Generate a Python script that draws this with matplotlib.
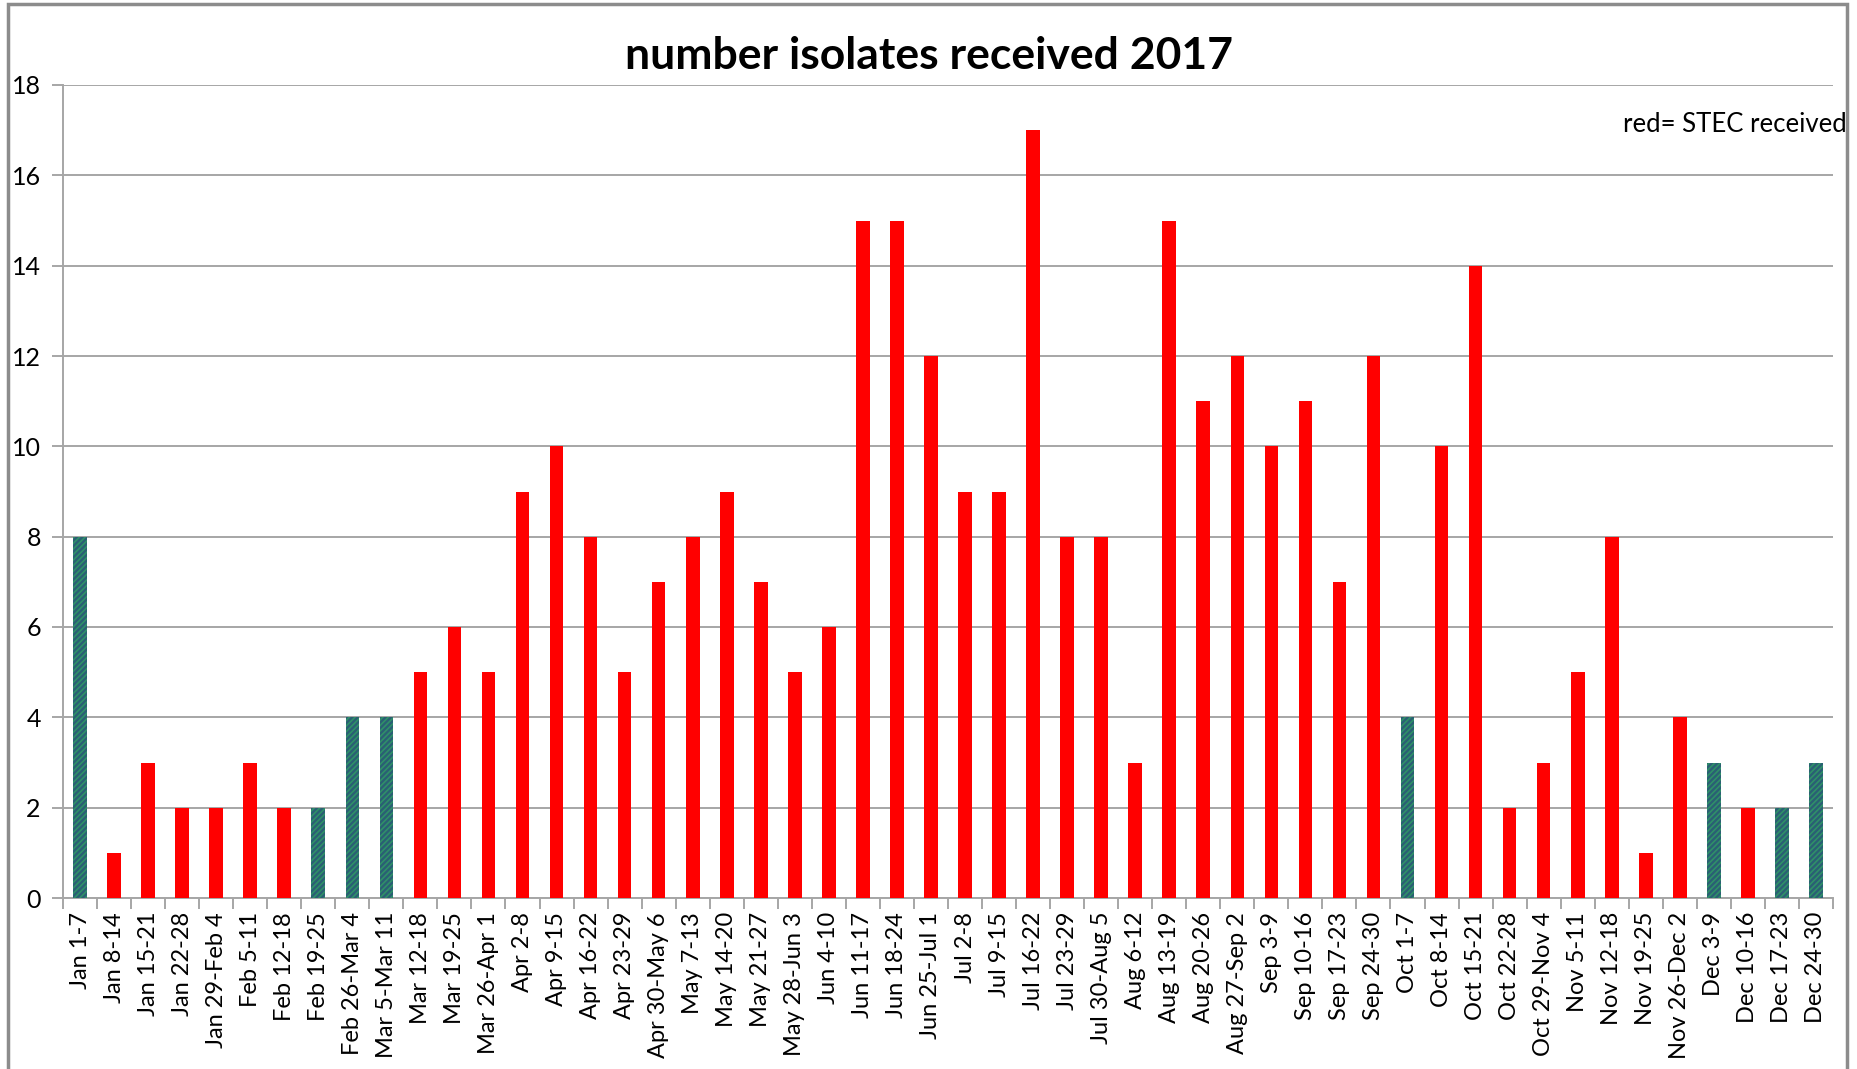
#!/usr/bin/env python3

import numpy as np
import matplotlib.pyplot as plt
from matplotlib.patches import Rectangle

# weekly isolate counts, 2017.
weeks = [
    "Jan 1-7", "Jan 8-14", "Jan 15-21", "Jan 22-28", "Jan 29-Feb 4", "Feb 5-11",
    "Feb 12-18", "Feb 19-25", "Feb 26-Mar 4", "Mar 5-Mar 11", "Mar 12-18", "Mar 19-25",
    "Mar 26-Apr 1", "Apr 2-8", "Apr 9-15", "Apr 16-22", "Apr 23-29", "Apr 30-May 6",
    "May 7-13", "May 14-20", "May 21-27", "May 28-Jun 3", "Jun 4-10", "Jun 11-17",
    "Jun 18-24", "Jun 25-Jul 1", "Jul 2-8", "Jul 9-15", "Jul 16-22", "Jul 23-29",
    "Jul 30-Aug 5", "Aug 6-12", "Aug 13-19", "Aug 20-26", "Aug 27-Sep 2", "Sep 3-9",
    "Sep 10-16", "Sep 17-23", "Sep 24-30", "Oct 1-7", "Oct 8-14", "Oct 15-21",
    "Oct 22-28", "Oct 29-Nov 4", "Nov 5-11", "Nov 12-18", "Nov 19-25", "Nov 26-Dec 2",
    "Dec 3-9", "Dec 10-16", "Dec 17-23", "Dec 24-30",
]
counts = [
    8, 1, 3, 2, 2, 3, 2, 2, 4, 4, 5, 6, 5, 9, 10, 8, 5, 7, 8, 9, 7, 5, 6, 15, 15, 12,
    9, 9, 17, 8, 8, 3, 15, 11, 12, 10, 11, 7, 12, 4, 10, 14, 2, 3, 5, 8, 1, 4, 3, 2, 2, 3,
]
# True where STEC was received (red bars).
stec = [
    False, True, True, True, True, True, True, False, False, False, True, True, True,
    True, True, True, True, True, True, True, True, True, True, True, True, True,
    True, True, True, True, True, True, True, True, True, True, True, True, True,
    False, True, True, True, True, True, True, True, True, False, True, False, False,
]

font = ["Lato", "DejaVu Sans"]
plt.rcParams["font.family"] = font
plt.rcParams["hatch.linewidth"] = 1.2

W, H = 1858, 1069
fig = plt.figure(figsize=(W / 100, H / 100), dpi=100)
ax = fig.add_axes([63 / W, 1 - 898 / H, (1833 - 63) / W, (898 - 85) / H])

x = np.arange(len(weeks))
grey = "#a6a6a6"
for xi, c, s in zip(x, counts, stec):
    if s:
        ax.bar(xi, c, width=0.4, color="#ff0000", linewidth=0, zorder=3)
    else:
        ax.bar(xi, c, width=0.4, facecolor="#2a5f74", edgecolor="#2f9068",
               hatch="//////", linewidth=0, zorder=3)

# axes and grid.
ax.set_xlim(-0.5, len(weeks) - 0.5)
ax.set_ylim(0, 18)
ax.set_yticks(np.arange(0, 19, 2))
ax.yaxis.grid(True, color=grey, linewidth=1.4, zorder=0)
ax.set_xticks(x)
ax.set_xticklabels(weeks, rotation=90, fontsize=17)
ax.set_xticks(np.arange(len(weeks) + 1) - 0.5, minor=True)
ax.tick_params(axis="x", which="major", length=0, pad=10)
ax.tick_params(axis="x", which="minor", length=8, color=grey, width=1.4)
ax.tick_params(axis="y", length=8, color=grey, width=1.4, labelsize=18, pad=8)
for side in ["top", "right"]:
    ax.spines[side].set_visible(False)
for side in ["left", "bottom"]:
    ax.spines[side].set_color(grey)
    ax.spines[side].set_linewidth(1.4)

fig.text(0.5, 1 - 56 / H, "number isolates received 2017", ha="center", va="center",
         fontsize=32, fontweight="bold")
fig.text(1623 / W, 1 - 132 / H, "red= STEC received", ha="left", va="baseline", fontsize=18.5)

# outer chart border.
fig.patches.append(Rectangle((8 / W, -0.02), (1847 - 8) / W, 1.02 - 4 / H,
                             transform=fig.transFigure, fill=False,
                             edgecolor="#8c8c8c", linewidth=2.5))

fig.savefig("out.png", dpi=100)
